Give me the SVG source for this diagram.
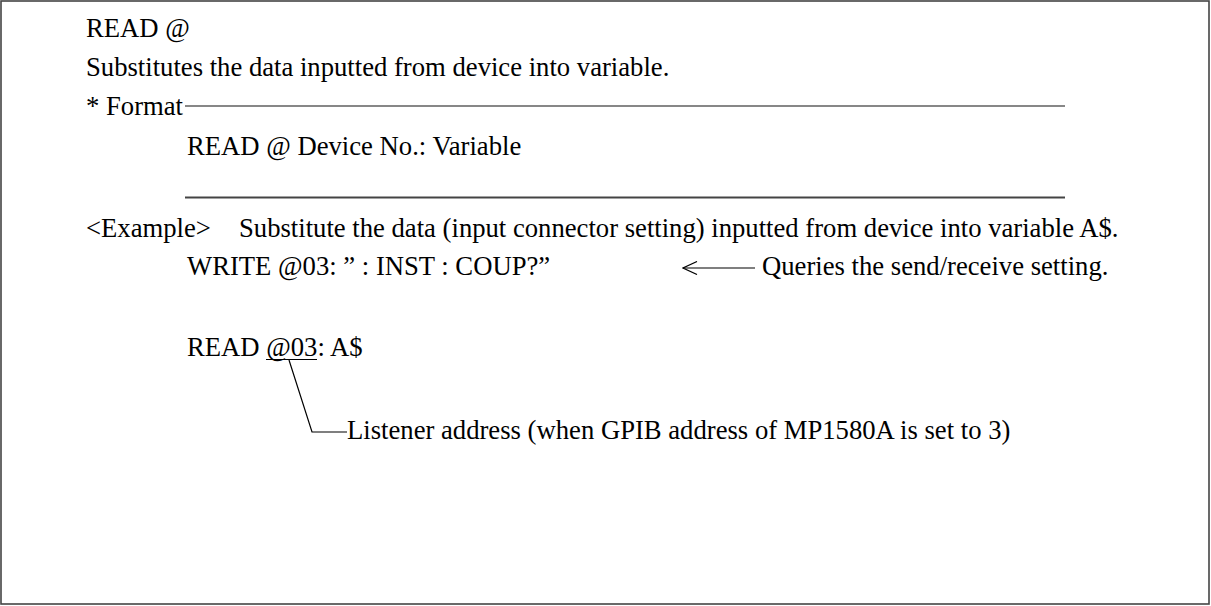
<svg xmlns="http://www.w3.org/2000/svg" width="1211" height="606" viewBox="0 0 1211 606">
  <style>
    text { font-family: "Liberation Serif", "Times New Roman", serif; font-size: 26.67px; fill: #000; }
    .rule-top { stroke: #111; stroke-width: 1.2; fill: none; }
    .rule-bottom { stroke: #444; stroke-width: 2; fill: none; }
    .thin { stroke: #000; stroke-width: 1.2; fill: none; }
  </style>
  <defs>
    <!-- open "<" head, tip at the end of the line -->
    <marker id="open-arrow" viewBox="0 0 16 14" refX="15" refY="7" markerWidth="16" markerHeight="14" markerUnits="userSpaceOnUse" orient="auto">
      <path d="M1,0.5 L15,7 L1,13.5" stroke="#000" stroke-width="1.2" fill="none"/>
    </marker>
  </defs>
  <rect x="1" y="1" width="1208" height="603" fill="#fff" stroke="#444" stroke-width="1.6"/>

  <g id="title">
    <text x="86" y="37">READ @</text>
    <text x="86" y="76">Substitutes the data inputted from device into variable.</text>
  </g>

  <g id="format">
    <text x="86" y="115">* Format</text>
    <text x="187" y="155">READ @ Device No.: Variable</text>
  </g>

  <g id="example">
    <text x="86" y="237">&lt;Example&gt;</text>
    <text x="239" y="237">Substitute the data (input connector setting) inputted from device into variable A$.</text>
    <text x="187" y="275">WRITE @03: ” : INST : COUP?”</text>
    <text x="762" y="275">Queries the send/receive setting.</text>
    <text x="187" y="356">READ @03: A$</text>
    <text x="347" y="439">Listener address (when GPIB address of MP1580A is set to 3)</text>
  </g>

  <g id="connectors">
    <line class="rule-top" x1="185" y1="106" x2="1065" y2="106"/>
    <line class="rule-bottom" x1="185" y1="197.5" x2="1065" y2="197.5"/>
    <line class="thin" x1="755" y1="268" x2="683" y2="268" marker-end="url(#open-arrow)"/>
    <!-- underline of the device number and its leader to the note -->
    <line class="thin" x1="266" y1="359.5" x2="317" y2="359.5"/>
    <polyline class="thin" points="289,360 312,432 347,432"/>
  </g>
</svg>
